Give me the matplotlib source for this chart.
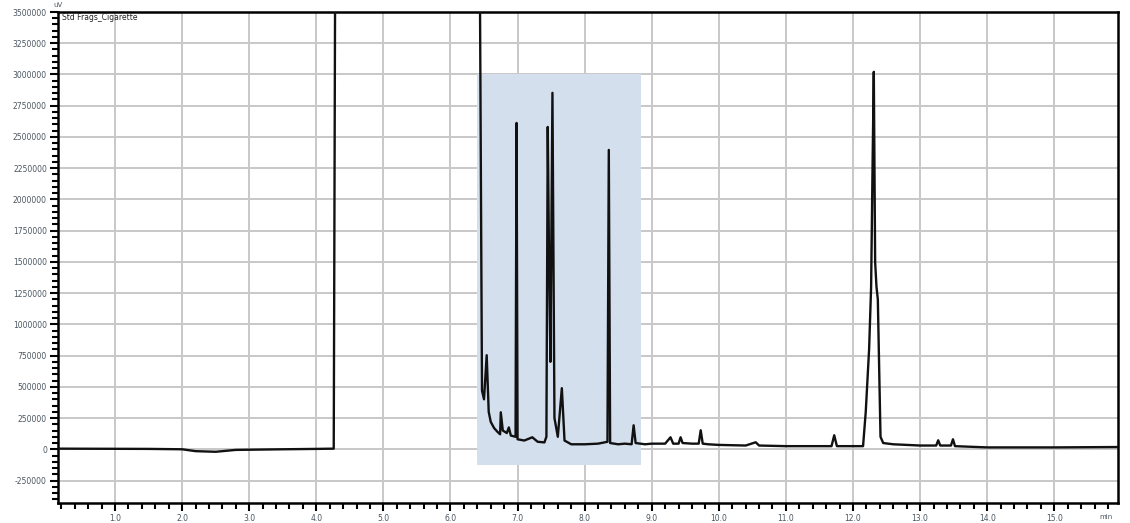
import numpy as np
import matplotlib
matplotlib.use("Agg")
from matplotlib import pyplot as plt
from matplotlib.ticker import MultipleLocator

# trace (min, uV)
time_min = [0.15, 1.5, 2.0, 2.2, 2.5, 2.8, 3.5, 4.0, 4.26, 4.28,
            6.44, 6.46, 6.47, 6.50, 6.54, 6.57, 6.60, 6.65, 6.70, 6.74,
            6.75, 6.78, 6.84, 6.87, 6.90, 6.97, 6.985, 7.00, 7.10, 7.22,
            7.30, 7.40, 7.43, 7.45, 7.47, 7.49, 7.52, 7.55, 7.60, 7.66,
            7.70, 7.80, 8.00, 8.20, 8.34, 8.36, 8.38, 8.50, 8.60, 8.70,
            8.73, 8.76, 8.90, 9.00, 9.20, 9.28, 9.32, 9.40, 9.43, 9.46,
            9.60, 9.70, 9.73, 9.76, 9.84, 10.0, 10.4, 10.55, 10.6, 11.0,
            11.5, 11.68, 11.72, 11.76, 12.0, 12.15, 12.19, 12.24, 12.27, 12.29,
            12.31, 12.33, 12.35, 12.37, 12.41, 12.45, 12.6, 13.0, 13.24, 13.27,
            13.30, 13.46, 13.49, 13.52, 14.0, 15.0, 15.95]
signal_uv = [5000, 3000, 0, -15000, -20000, -5000, 0, 3000, 5000, 3600000,
             3600000, 1500000, 470000, 400000, 753000, 300000, 220000, 170000, 140000, 120000,
             296000, 150000, 130000, 175000, 110000, 100000, 2612000, 80000, 70000, 96000,
             60000, 55000, 100000, 2580000, 1500000, 700000, 2853000, 250000, 100000, 489000,
             70000, 40000, 40000, 45000, 60000, 2396000, 50000, 40000, 45000, 40000,
             192000, 50000, 40000, 45000, 45000, 96000, 45000, 45000, 96000, 50000,
             45000, 45000, 152000, 45000, 40000, 35000, 30000, 56000, 30000, 25000,
             25000, 25000, 112000, 25000, 25000, 25000, 300000, 800000, 1300000, 2200000,
             3021000, 1500000, 1300000, 1200000, 100000, 50000, 40000, 30000, 30000, 72000,
             30000, 30000, 80000, 25000, 15000, 15000, 18000]

# shaded window
window_t = [6.40, 8.84]
window_y = [-125000, 3000000]

x_major = np.arange(1, 16)
y_major = np.arange(-250000, 3500001, 250000)

fig = plt.figure(figsize=(11.3, 5.23), dpi=100)
ax = fig.add_axes([58 / 1130, 1 - 503 / 523, 1060 / 1130, 491 / 523])

ax.fill_between(window_t, window_y[0], window_y[1], color="#d4dfee", zorder=1, lw=0)
ax.plot(time_min, signal_uv, color="#111111", lw=1.7, zorder=3)

ax.set_xlim(0.15, 15.95)
ax.set_ylim(-430000, 3500000)
ax.set_xticks(x_major)
ax.set_xticklabels(["%.1f" % v for v in x_major])
ax.xaxis.set_minor_locator(MultipleLocator(0.2))
ax.set_yticks(y_major)
ax.set_yticklabels(["%d" % v for v in y_major])
ax.yaxis.set_minor_locator(MultipleLocator(50000))

ax.grid(True, which="major", color="#c8c8c8", lw=1.4, zorder=0)
ax.set_axisbelow(True)
for s in ax.spines.values():
    s.set_linewidth(1.8)
    s.set_color("black")
ax.tick_params(which="major", direction="out", length=6, width=1.5, labelsize=5.5,
               labelcolor="#4a5560", pad=2)
ax.tick_params(which="minor", direction="out", length=4, width=1.5)

fig.text(58 / 1130, 1 - 5 / 523, "uV", fontsize=5, color="#4a5560", ha="center", va="center")
fig.text(1106 / 1130, 1 - 517 / 523, "min", fontsize=5, color="#4a5560", ha="center", va="center")
ax.text(0.004, 0.997, "Std Frags_Cigarette", transform=ax.transAxes, fontsize=5.5,
        color="#222222", ha="left", va="top", zorder=4)

fig.savefig("out.png", dpi=100)
